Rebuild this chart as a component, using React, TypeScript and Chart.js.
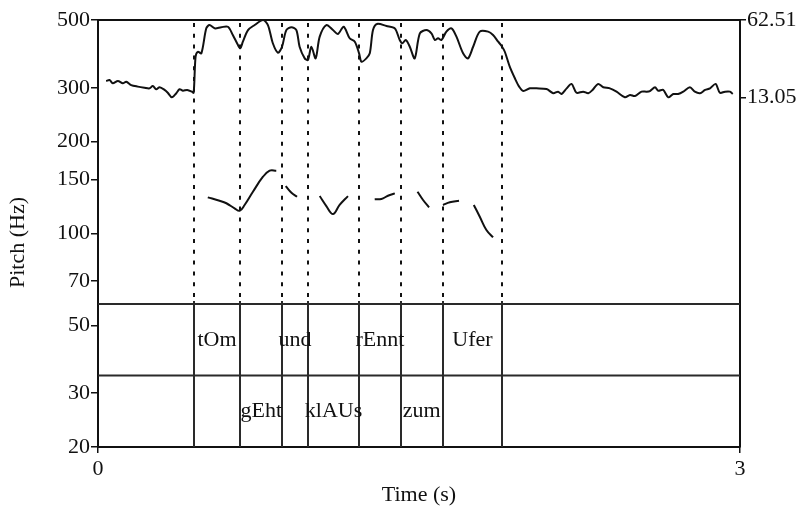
import React, { useEffect, useRef } from "react";
import { Chart, registerables } from "chart.js";

Chart.register(...registerables);

const FONT = '"Liberation Serif", "Times New Roman", Times, serif';
const INK = "#111111";

// ---- axis ticks & titles ----
const xTicks = [0, 3];
const pitchTicks = [20, 30, 50, 70, 100, 150, 200, 300, 500];
const intensityTicks = [13.05, 62.51];
const xTitle = "Time (s)";
const yTitle = "Pitch (Hz)";

// ---- intensity contour (dB) ----
const intensityTimes = [
  0.038, 0.054, 0.069, 0.093, 0.116, 0.132, 0.155, 0.186, 0.217, 0.241, 0.256, 0.272, 0.288, 0.311,
  0.326, 0.345, 0.366, 0.381, 0.397, 0.417, 0.439, 0.447, 0.456, 0.467, 0.483, 0.506, 0.521, 0.545,
  0.576, 0.607, 0.63, 0.654, 0.665, 0.677, 0.701, 0.732, 0.771, 0.794, 0.817, 0.841, 0.86, 0.88,
  0.904, 0.927, 0.942, 0.966, 0.981, 0.997, 1.017, 1.036, 1.067, 1.098, 1.121, 1.148, 1.176, 1.2,
  1.22, 1.231, 1.254, 1.27, 1.285, 1.304, 1.348, 1.387, 1.41, 1.423, 1.438, 1.457, 1.48, 1.504,
  1.535, 1.558, 1.574, 1.589, 1.605, 1.628, 1.652, 1.675, 1.706, 1.729, 1.753, 1.784, 1.823, 1.846,
  1.87, 1.886, 1.901, 1.924, 1.948, 1.968, 1.987, 2.018, 2.049, 2.096, 2.127, 2.15, 2.166, 2.19,
  2.213, 2.236, 2.267, 2.291, 2.311, 2.337, 2.361, 2.392, 2.423, 2.462, 2.486, 2.509, 2.54, 2.564,
  2.579, 2.603, 2.618, 2.641, 2.665, 2.688, 2.711, 2.735, 2.766, 2.789, 2.813, 2.837, 2.86, 2.886,
  2.906, 2.93, 2.953, 2.966,
];
const intensityDb = [
  23.7, 24.3, 22.2, 23.7, 22.2, 23.2, 21.1, 20.1, 19.4, 19.0, 20.5, 18.4, 19.7, 18.0,
  16.2, 13.3, 15.9, 18.4, 17.5, 18.0, 16.9, 16.2, 39.2, 42.3, 41.3, 57.2, 59.3, 57.2,
  57.9, 58.2, 53.0, 46.6, 44.5, 48.7, 56.1, 59.3, 62.5, 59.3, 47.7, 41.7, 45.5, 56.1,
  57.9, 56.1, 45.5, 38.1, 37.1, 45.5, 38.1, 51.9, 59.3, 56.1, 53.6, 58.2, 50.9, 48.7,
  41.3, 36.0, 38.1, 41.3, 56.1, 60.0, 58.7, 57.2, 49.8, 47.7, 49.8, 45.5, 38.1, 54.0,
  56.1, 54.0, 49.8, 50.9, 49.8, 55.1, 57.2, 51.9, 41.3, 38.1, 45.5, 55.1, 55.1, 53.0,
  48.7, 46.0, 42.3, 32.8, 25.4, 20.1, 17.3, 19.0, 19.0, 18.6, 15.9, 16.9, 15.4, 19.0,
  21.8, 16.2, 16.9, 15.9, 18.0, 21.8, 19.7, 19.0, 16.9, 13.3, 14.8, 14.1, 16.9, 16.9,
  17.3, 19.7, 17.5, 18.0, 13.3, 15.4, 15.4, 16.9, 19.7, 16.9, 15.9, 18.0, 19.0, 21.8,
  16.2, 16.9, 16.9, 15.4,
];

// ---- pitch contour (Hz), null = unvoiced gap ----
const pitchTimes = [
  0.513, 0.568, 0.6, 0.638, 0.662, 0.685, 0.724, 0.771, 0.802, 0.833, 0.855,
  0.877, 0.904, 0.93, 0.98,
  1.036, 1.067, 1.098, 1.129, 1.168, 1.23,
  1.293, 1.324, 1.355, 1.387, 1.44,
  1.493, 1.519, 1.547, 1.58,
  1.612, 1.644, 1.687, 1.72,
  1.756, 1.784, 1.815, 1.846,
];
const pitchHz = [
  131.3, 128.0, 125.6, 120.9, 118.7, 124.0, 137.0, 153.4, 160.6, 160.6, null,
  143.0, 136.0, 131.9, null,
  132.6, 123.0, 115.8, 124.0, 132.6, null,
  129.4, 129.7, 132.9, 135.3, null,
  137.0, 128.7, 121.8, null,
  124.0, 126.5, 128.0, null,
  124.0, 113.5, 102.7, 97.2,
];

// ---- TextGrid ----
const boundaries = [0.447, 0.665, 0.861, 0.981, 1.22, 1.415, 1.61, 1.89];
const tier1Starts = [0.447, 0.861, 1.22, 1.61];
const tier1Ends = [0.665, 0.981, 1.415, 1.89];
const tier1Texts = ["tOm", "und", "rEnnt", "Ufer"];
const tier2Starts = [0.665, 0.981, 1.415];
const tier2Ends = [0.861, 1.22, 1.61];
const tier2Texts = ["gEht", "klAUs", "zum"];

// layout fractions of the plot height where the tiers start
const TIER_TOP_FRAC = 0.665;
const TIER_MID_FRAC = 0.8326;

const praatPlugin = {
  id: "praatOverlay",
  beforeDatasetsDraw(chart: any) {
    const { ctx, chartArea, scales } = chart;
    const { left, right, top, bottom } = chartArea;
    const x = scales.x;
    const h = bottom - top;
    const tierTop = top + h * TIER_TOP_FRAC;
    const tierMid = top + h * TIER_MID_FRAC;
    const line = (x1: number, y1: number, x2: number, y2: number) => {
      ctx.beginPath();
      ctx.moveTo(x1, y1);
      ctx.lineTo(x2, y2);
      ctx.stroke();
    };
    ctx.save();
    ctx.strokeStyle = INK;
    ctx.lineWidth = 2;
    line(left, top, right, top);
    ctx.strokeStyle = "#2a2a2a";
    line(left, tierTop, right, tierTop);
    line(left, tierMid, right, tierMid);
    for (const b of boundaries) {
      const px = Math.round(x.getPixelForValue(b));
      ctx.setLineDash([4, 6.8]);
      ctx.lineDashOffset = -3;
      ctx.strokeStyle = INK;
      line(px, top, px, tierTop);
      ctx.setLineDash([]);
      ctx.strokeStyle = "#2a2a2a";
      line(px, tierTop - 3, px, bottom);
    }
    ctx.fillStyle = INK;
    ctx.font = `22px ${FONT}`;
    ctx.textAlign = "center";
    ctx.textBaseline = "middle";
    const y1 = (tierTop + tierMid) / 2;
    const y2 = (tierMid + bottom) / 2;
    tier1Texts.forEach((t, i) => {
      ctx.fillText(t, x.getPixelForValue((tier1Starts[i] + tier1Ends[i]) / 2), y1);
    });
    tier2Texts.forEach((t, i) => {
      ctx.fillText(t, x.getPixelForValue((tier2Starts[i] + tier2Ends[i]) / 2), y2);
    });
    // vertical axis title
    ctx.save();
    ctx.translate(18.5, (top + bottom) / 2 + 9);
    ctx.rotate(-Math.PI / 2);
    ctx.fillText(yTitle, 0, 0);
    ctx.restore();
    ctx.restore();
  },
};

export default function App() {
  const ref = useRef<HTMLCanvasElement | null>(null);
  useEffect(() => {
    if (!ref.current) return;
    const font = { family: FONT, size: 22 };
    const chart = new Chart(ref.current, {
      type: "line",
      data: {
        datasets: [
          {
            label: "Intensity",
            data: intensityTimes.map((t, i) => ({ x: t, y: intensityDb[i] })),
            yAxisID: "y2",
            borderColor: INK,
            borderWidth: 2,
            pointRadius: 0,
            tension: 0.3,
            fill: false,
          },
          {
            label: "Pitch",
            data: pitchTimes.map((t, i) => ({ x: t, y: pitchHz[i] })) as any,
            yAxisID: "y",
            borderColor: INK,
            borderWidth: 2,
            pointRadius: 0,
            tension: 0.4,
            spanGaps: false,
            fill: false,
          },
        ],
      },
      options: {
        animation: false,
        responsive: false,
        maintainAspectRatio: false,
        layout: { padding: { top: 20, left: 0, right: 0, bottom: 0 } },
        plugins: { legend: { display: false }, tooltip: { enabled: false } },
        scales: {
          x: {
            type: "linear",
            position: "bottom",
            min: 0,
            max: 3,
            afterBuildTicks: (s: any) => {
              s.ticks = xTicks.map((v) => ({ value: v }));
            },
            afterFit: (s: any) => {
              s.height = 59;
            },
            ticks: {
              font,
              color: INK,
              padding: 3,
              maxRotation: 0,
              autoSkip: false,
              callback: (v: any) => String(v),
            },
            grid: { drawOnChartArea: false, drawTicks: true, tickLength: 6, color: INK, lineWidth: 1.5 },
            border: { display: true, color: INK, width: 2 },
            title: { display: true, text: xTitle, font, color: INK, padding: { top: 0, bottom: -2 } },
          },
          y: {
            type: "logarithmic",
            position: "left",
            min: 20,
            max: 500,
            afterBuildTicks: (s: any) => {
              s.ticks = pitchTicks.map((v) => ({ value: v }));
            },
            afterFit: (s: any) => {
              s.width = 98;
            },
            ticks: { font, color: INK, padding: 1, autoSkip: false, callback: (v: any) => String(v) },
            grid: { drawOnChartArea: false, drawTicks: true, tickLength: 7, color: INK, lineWidth: 1.5 },
            border: { display: true, color: INK, width: 2 },
            title: { display: false },
          },
          y2: {
            type: "linear",
            position: "right",
            min: -209.3,
            max: 62.51,
            afterBuildTicks: (s: any) => {
              s.ticks = intensityTicks.map((v) => ({ value: v }));
            },
            afterFit: (s: any) => {
              s.width = 60;
            },
            ticks: { font, color: INK, padding: 1, autoSkip: false, callback: (v: any) => String(v) },
            grid: { drawOnChartArea: false, drawTicks: true, tickLength: 6, color: INK, lineWidth: 1.5 },
            border: { display: true, color: INK, width: 2 },
          },
        },
      },
      plugins: [praatPlugin],
    });
    return () => chart.destroy();
  }, []);
  return (
    <div style={{ position: "fixed", left: 0, top: 0, width: 800, height: 506, background: "#fff" }}>
      <canvas ref={ref} width={800} height={506} style={{ display: "block" }} />
    </div>
  );
}
